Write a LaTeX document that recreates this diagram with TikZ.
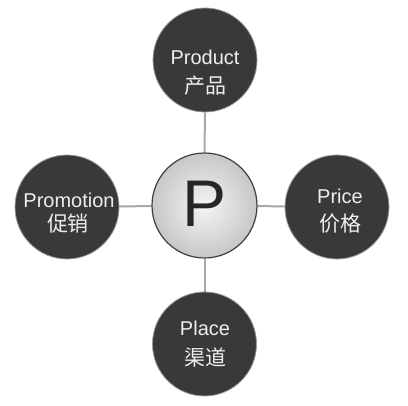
\documentclass[tikz,border=0pt]{standalone}
\usepackage{fontspec}
\setmainfont{Liberation Sans}
\newfontfamily\cjk{Noto Sans CJK SC}
\usetikzlibrary{backgrounds}
\definecolor{darkfill}{HTML}{3B3838}
\definecolor{rimgray}{HTML}{9A9A9A}
\definecolor{linkgray}{HTML}{A8A8A8}
\definecolor{txtgray}{HTML}{EEEEEE}
\tikzset{
  outer/.style={circle, minimum size=104pt, inner sep=0pt, fill=darkfill, draw=rimgray, line width=0.8pt},
  hub/.style={circle, minimum size=105pt, inner sep=0pt, draw=black!75, line width=1.2pt,
    inner color=white!96!black, outer color=black!22},
  lbl/.style={text=txtgray, font=\fontsize{20}{22}\selectfont, inner sep=0pt},
  zh/.style={text=txtgray, font=\cjk\fontsize{21}{23}\selectfont, inner sep=0pt},
  link/.style={draw=linkgray, line width=2pt}
}
\begin{document}
\begin{tikzpicture}[x=1pt,y=-1pt]
\useasboundingbox (0,0) rectangle (408,406);
\node[hub] (c) at (204.5,205.5) {};
\node[font=\fontsize{66}{70}\selectfont, inner sep=0pt, text=black!85] (p) at (205,204) {P};
\node[outer] (top) at (205,60) {};
\node[outer] (left) at (67,207) {};
\node[outer] (right) at (337,207) {};
\node[outer] (bot) at (204.5,344) {};
\begin{scope}[on background layer]
\draw[link] (c) -- (top);
\draw[link] (c) -- (left);
\draw[link] (c) -- (right);
\draw[link] (c) -- (bot);
\end{scope}
\node[lbl] (t1) at (205,57) {Product};
\node[zh] (t2) at (205,86) {产品};
\node[lbl] (l1) at (69,200) {Promotion};
\node[zh] (l2) at (68,224) {促销};
\node[lbl] (r1) at (340,196) {Price};
\node[zh] (r2) at (340,224) {价格};
\node[lbl] (b1) at (205,328) {Place};
\node[zh] (b2) at (205,357) {渠道};
\end{tikzpicture}
\end{document}
